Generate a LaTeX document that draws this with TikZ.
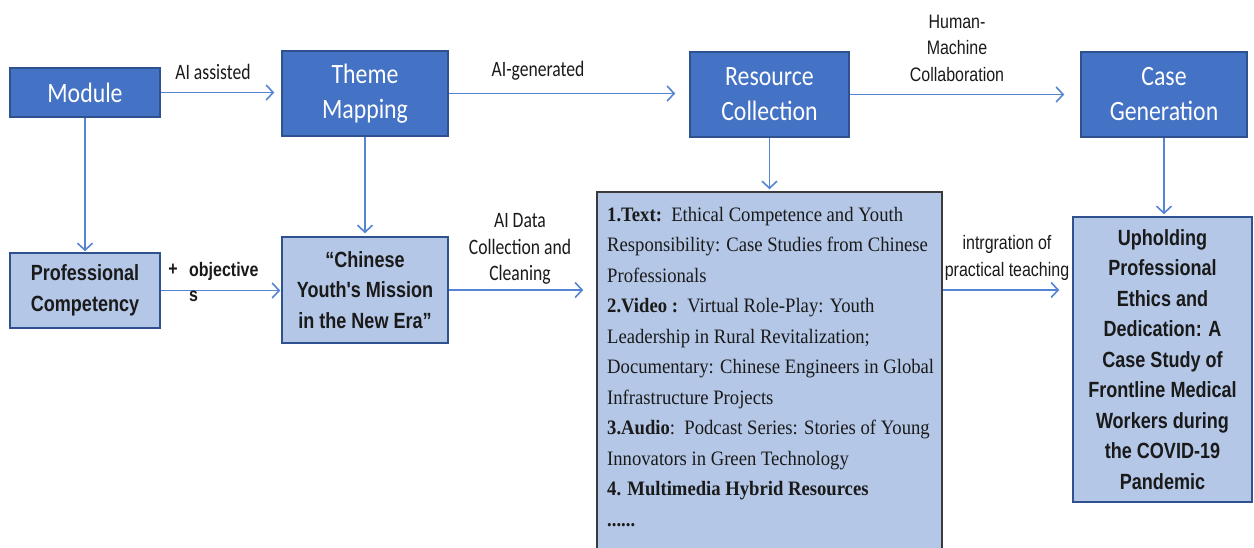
\documentclass[tikz,border=0pt]{standalone}
\usepackage{fontspec}
\setmainfont{Liberation Serif}
\newfontfamily\hdfont[FakeStretch=0.85]{Carlito}
\newfontfamily\lbfont[FakeStretch=0.8]{Carlito}
\newfontfamily\arfont[FakeStretch=0.82]{Liberation Sans}
\newfontfamily\tmfont[FakeStretch=0.91]{Liberation Serif}
\usetikzlibrary{arrows.meta}

\definecolor{boxblue}{HTML}{4472C4}
\definecolor{boxlight}{HTML}{B4C7E7}
\definecolor{boxedge}{HTML}{2F528F}
\definecolor{mediaedge}{HTML}{3A3A3A}
\definecolor{arrowc}{HTML}{5584D4}
\definecolor{ink}{HTML}{1A1A1A}

\tikzset{
  hdbox/.style={draw=boxedge, fill=boxblue, line width=1.5pt, inner sep=0pt,
    text=white, align=center, font=\hdfont\fontsize{28}{35}\selectfont},
  ltbox/.style={draw=boxedge, fill=boxlight, line width=1.5pt, inner sep=0pt,
    text=ink, align=center, font=\arfont\bfseries\fontsize{22}{30.5}\selectfont},
  lbl/.style={align=center, inner sep=0pt, text=ink,
    font=\lbfont\fontsize{22}{26.5}\selectfont},
  lbln/.style={align=center, inner sep=0pt, text=ink,
    font=\arfont\fontsize{19.5}{26.5}\selectfont},
  arr/.style={draw=arrowc, line width=1.6pt,
    -{Straight Barb[length=7pt,width=15pt,line width=1.6pt]}}
}

\begin{document}
\begin{tikzpicture}[x=1pt,y=-1pt]
\useasboundingbox (0,0) rectangle (1254,547);

% top row: process steps
\node[hdbox, minimum width=150pt, minimum height=49pt] (mod) at (85,92.5) {Module};
\node[hdbox, minimum width=166pt, minimum height=85pt] (theme) at (365,93.5) {Theme\\Mapping};
\node[hdbox, minimum width=159pt, minimum height=85pt] (res) at (769.5,94.5) {Resource\\Collection};
\node[hdbox, minimum width=166pt, minimum height=85pt] (case) at (1164,94.5) {Case\\Generation};

% bottom row: outcomes of each step
\node[ltbox, minimum width=150pt, minimum height=75pt] (prof) at (85,290.5) {Professional\\Competency};
\node[ltbox, minimum width=166pt, minimum height=106pt] (youth) at (365,290) {“Chinese\\Youth's Mission\\in the New Era”};
\node[ltbox, minimum width=179pt, minimum height=285pt] (uph) at (1162.5,359.5)
  {Upholding\\Professional\\Ethics and\\Dedication: A\\Case Study of\\Frontline Medical\\Workers during\\the COVID-19\\Pandemic};

% resource list box (runs off the lower edge)
\node[draw=mediaedge, fill=boxlight, line width=1.5pt, inner sep=0pt,
      minimum width=345pt, minimum height=362pt] (media) at (769.5,373) {};
\node[anchor=north west, inner sep=0pt, align=left, text=ink,
      font=\tmfont\fontsize{20.5}{30.5}\selectfont] (mtext) at (607,207)
  {\textbf{1.Text:}\ \ Ethical Competence and Youth\\
   Responsibility: Case Studies from Chinese\\
   Professionals\\
   \textbf{2.Video :}\ \ Virtual Role-Play: Youth\\
   Leadership in Rural Revitalization;\\
   Documentary: Chinese Engineers in Global\\
   Infrastructure Projects\\
   \textbf{3.Audio}:\ \ Podcast Series: Stories of Young\\
   Innovators in Green Technology\\
   \textbf{4. Multimedia Hybrid Resources}\\
   \textbf{......}};

% connectors
\draw[arr, shorten >=7pt]  (mod.east) -- (mod.east -| theme.west);
\draw[arr, shorten >=14pt] (theme.east) -- (theme.east -| res.west);
\draw[arr, shorten >=16pt] (res.east) -- (res.east -| case.west);
\draw[arr, shorten >=1pt]  (mod.south) -- (mod.south |- prof.north);
\draw[arr, shorten >=3pt]  (theme.south) -- (theme.south |- youth.north);
\draw[arr, shorten >=2pt]  (res.south) -- (res.south |- media.north);
\draw[arr, shorten >=2pt]  (case.south) -- (case.south |- uph.north);
\draw[arr, shorten >=1pt]  (prof.east) -- (prof.east -| youth.west);
\draw[arr, shorten >=13pt] (youth.east) -- (youth.east -| media.west);
\draw[arr, shorten >=13pt] (youth.east -| media.east) -- (youth.east -| uph.west);

% connector labels
\node[lbl] (lassist) at (213,72) {AI assisted};
\node[lbl] (lgen) at (538,71) {AI-generated};
\node[lbln] (lhm) at (957,48) {Human-\\Machine\\Collaboration};
\node[lbl] (ldata) at (520,249) {AI Data\\Collection and\\Cleaning};
\node[lbln] (lint) at (1007,258) {intrgration of\\practical teaching};
\node[inner sep=0pt, text=ink, font=\arfont\bfseries\fontsize{19.5}{25}\selectfont] (plus) at (173,270) {+};
\node[anchor=north west, align=left, inner sep=0pt, text=ink,
      font=\arfont\bfseries\fontsize{19.5}{25}\selectfont] (lobj) at (189,262) {objective\\s};
\end{tikzpicture}
\end{document}
